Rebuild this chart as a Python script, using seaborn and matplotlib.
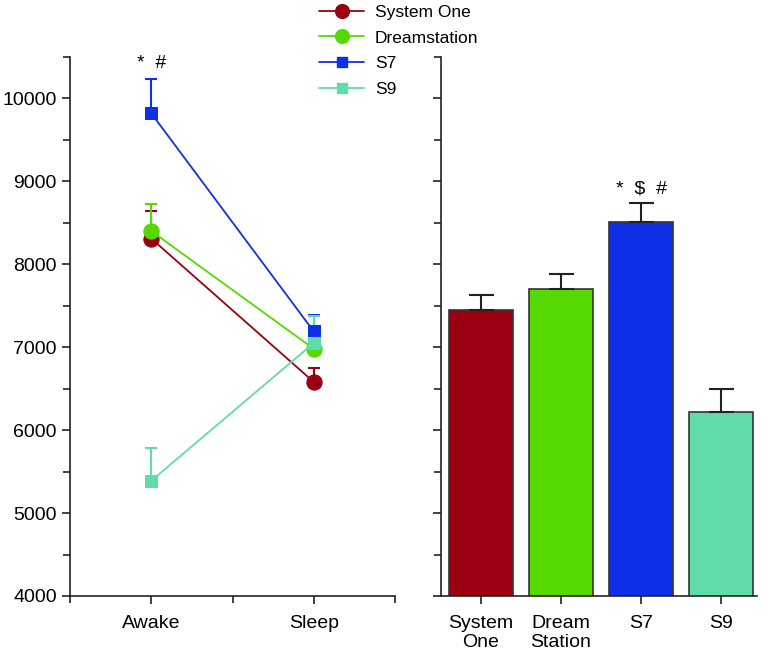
import numpy as np
import pandas as pd
import seaborn as sns
import matplotlib
matplotlib.use("Agg")
import matplotlib.pyplot as plt
from matplotlib.ticker import MultipleLocator, FixedLocator

# data
conditions = ["Awake", "Sleep"]
devices = ["System One", "Dreamstation", "S7", "S9"]
sys_one = [8310, 6580]
dream = [8400, 6980]
s7 = [9820, 7190]
s9 = [5390, 7050]
sys_one_err = [330, 170]
dream_err = [330, 200]
s7_err = [410, 200]
s9_err = [390, 330]

bar_labels = ["System\nOne", "Dream\nStation", "S7", "S9"]
bar_means = [7450, 7700, 8510, 6220]
bar_err = [180, 180, 230, 270]

colors = ["#9a0010", "#55d900", "#1030e8", "#60dca8"]
markers = ["o", "o", "s", "s"]
msizes = [11, 11, 8.5, 8.5]

sns.set_style("ticks")
plt.rcParams["font.family"] = ["Liberation Sans", "DejaVu Sans"]
plt.rcParams["font.size"] = 14
plt.rcParams["text.color"] = "black"
plt.rcParams["xtick.color"] = "black"
plt.rcParams["ytick.color"] = "black"

fig = plt.figure(figsize=(7.67, 6.55), dpi=100)
ax1 = fig.add_axes([0.0913, 0.0901, 0.4237, 0.823])
ax2 = fig.add_axes([0.575, 0.0901, 0.412, 0.823])

# left panel: lines per device
means = [sys_one, dream, s7, s9]
errs = [sys_one_err, dream_err, s7_err, s9_err]
xpos = np.arange(len(conditions))
handles = []
for dev, m, e, c, mk, ms in zip(devices, means, errs, colors, markers, msizes):
    df = pd.DataFrame({"x": xpos, "y": m})
    ax1.errorbar(xpos, m, yerr=[np.zeros(len(e)), e], fmt="none", ecolor=c,
                 elinewidth=1.5, capsize=4, capthick=1.5, zorder=2)
    sns.lineplot(data=df, x="x", y="y", color=c, marker=mk, markersize=ms,
                 markeredgecolor=c, linewidth=1.3, ax=ax1, zorder=3)
    handles.append(matplotlib.lines.Line2D([], [], color=c, marker=mk,
                   markersize=ms * 0.9, markeredgecolor=c, linewidth=1.3))

ax1.set_xlim(-0.5, 1.5)
ax1.xaxis.set_major_locator(FixedLocator(xpos))
ax1.xaxis.set_minor_locator(FixedLocator([-0.5, 0.5, 1.5]))
ax1.set_xticklabels(conditions)
ax1.text(0, 10420, "*  #", ha="center", va="center", fontsize=14)

# right panel: bars
sns.barplot(x=bar_labels, y=bar_means, hue=bar_labels, palette=colors,
            edgecolor="#333333", linewidth=1.2, width=0.8, legend=False,
            saturation=1, ax=ax2)
ax2.errorbar(np.arange(len(bar_means)), bar_means,
             yerr=[np.zeros(len(bar_err)), bar_err], fmt="none",
             ecolor="#222222", elinewidth=1.5, capsize=9, capthick=1.5)
ax2.set_xlim(-0.5, 3.45)
ax2.text(2, 8910, "*  $  #", ha="center", va="center", fontsize=14)
for lbl in ax2.get_xticklabels():
    lbl.set_linespacing(1.1)

for ax in (ax1, ax2):
    ax.set_ylim(4000, 10500)
    ax.yaxis.set_major_locator(MultipleLocator(1000))
    ax.yaxis.set_minor_locator(MultipleLocator(500))
    ax.set_xlabel("")
    ax.set_ylabel("")
    for s in ("top", "right"):
        ax.spines[s].set_visible(False)
    for s in ("left", "bottom"):
        ax.spines[s].set_linewidth(1.2)
        ax.spines[s].set_color("#222222")
    ax.tick_params(which="major", length=6, width=1.2, color="#222222", labelsize=14)
    ax.tick_params(which="minor", length=5, width=1.2, color="#222222")
    ax.tick_params(axis="x", pad=8)
ax2.tick_params(axis="y", labelleft=False)

fig.legend(handles, devices, loc="upper center", bbox_to_anchor=(0.52, 1.017),
           frameon=False, fontsize=12.5, handlelength=2.6, labelspacing=0.62,
           handletextpad=0.6)

fig.savefig("out.png", dpi=100)
